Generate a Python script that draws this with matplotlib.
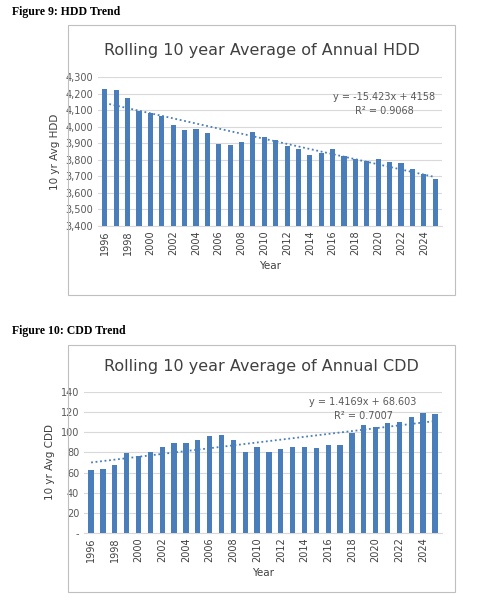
import matplotlib
matplotlib.use("Agg")
import matplotlib.pyplot as plt
from matplotlib.patches import Rectangle
from matplotlib.ticker import FuncFormatter
import numpy as np

years = list(range(1996, 2026))
hdd = [4225,4222,4172,4095,4080,4062,4008,3980,3985,3962,3895,3887,3905,3970,3935,
       3922,3882,3868,3830,3842,3868,3825,3805,3790,3805,3785,3780,3742,3712,3682]
cdd = [63,64,68,79,76,80,85,89,89,92,96,97,92,80,85,80,83,85,85,84,87,87,99,107,105,
       109,110,115,119,118]
hdd_fit = (-15.423, 4158)
cdd_fit = (1.4169, 68.603)

W, H = 480, 601
fig = plt.figure(figsize=(W/100, H/100), dpi=100)
blue = "#4a7ebb"

def px(x0, y0, x1, y1):
    return [x0/W, 1-y1/H, (x1-x0)/W, (y1-y0)/H]

fig.text(12/W, 1-12/H, "Figure 9: HDD Trend", family="Liberation Serif", weight="bold", fontsize=8.5, va="center")
fig.text(12/W, 1-331/H, "Figure 10: CDD Trend", family="Liberation Serif", weight="bold", fontsize=8.5, va="center")
for (y0, y1) in [(25, 295), (345, 592)]:
    fig.patches.append(Rectangle((68/W, 1-y1/H), (455-68)/W, (y1-y0)/H, transform=fig.transFigure,
                                 fill=False, edgecolor="#bfbfbf", lw=0.8))

def draw(rect, vals, fit, ylim, step, title, ylabel, fmt, eq, r2, title_y, eq_xy):
    ax = fig.add_axes(px(*rect))
    x = np.arange(len(years))
    ax.bar(x, vals, width=0.45, color=blue, zorder=3)
    idx = x + 1
    ax.plot(x, fit[0]*idx + fit[1], ls=(0, (1, 1.5)), color=blue, lw=1.3, zorder=4)
    ax.set_ylim(*ylim)
    ax.set_xlim(-0.6, len(years)-0.4)
    ax.set_yticks(np.arange(ylim[0], ylim[1]+1, step))
    ax.yaxis.set_major_formatter(FuncFormatter(fmt))
    ax.set_xticks(x[::2])
    ax.set_xticklabels([str(y) for y in years[::2]], rotation=90, fontsize=7, color="#404040")
    ax.tick_params(axis="y", labelsize=7, colors="#595959", length=0)
    ax.tick_params(axis="x", length=0, pad=3)
    ax.grid(axis="y", color="#d9d9d9", lw=0.8, zorder=0)
    for s in ["top", "right", "left"]:
        ax.spines[s].set_visible(False)
    ax.spines["bottom"].set_color("#d9d9d9")
    ax.set_ylabel(ylabel, fontsize=7.5, color="#404040")
    ax.set_xlabel("Year", fontsize=7.5, color="#404040")
    fig.text(0.5*(68+455)/W, 1-title_y/H, title, ha="center", va="center", fontsize=11.5, color="#404040")
    fig.text(eq_xy[0]/W, 1-eq_xy[1]/H, eq, ha="center", va="center", fontsize=7, color="#595959")
    fig.text(eq_xy[0]/W, 1-(eq_xy[1]+14)/H, r2, ha="center", va="center", fontsize=7, color="#595959")

draw((98, 77, 442, 226), hdd, hdd_fit, (3400, 4300), 100,
     "Rolling 10 year Average of Annual HDD", "10 yr Avg HDD",
     lambda v, p: f"{int(v):,}", "y = -15.423x + 4158", "R² = 0.9068", 50, (384, 97))
draw((84, 392, 442, 533), cdd, cdd_fit, (0, 140), 20,
     "Rolling 10 year Average of Annual CDD", "10 yr Avg CDD",
     lambda v, p: "-" if v == 0 else f"{int(v)}", "y = 1.4169x + 68.603", "R² = 0.7007", 366, (363, 402))

fig.savefig("out.png", dpi=100)
